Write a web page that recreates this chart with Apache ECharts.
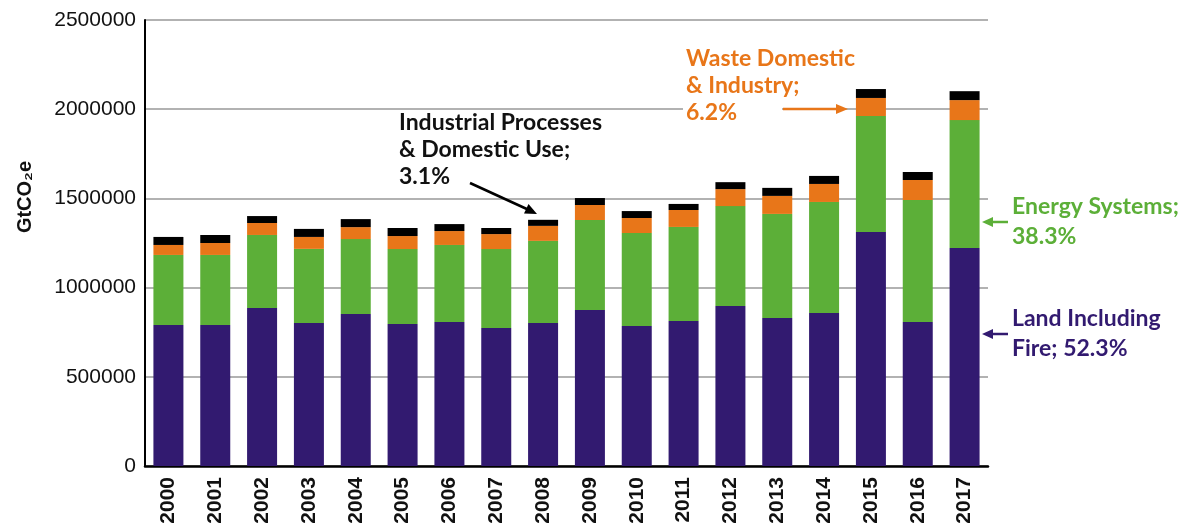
<!DOCTYPE html>
<html lang="en">
<head>
    <meta charset="utf-8" />
    <title>GtCO2e by sector</title>
    <script type="text/javascript" src="https://cdn.jsdelivr.net/npm/echarts/dist/echarts.min.js"></script>
    <style>
        html, body { margin: 0; padding: 0; background: #fff; }
        #chart { width: 1189px; height: 527px; }
    </style>
</head>
<body>
    <div id="chart"></div>

    <script type="text/javascript">
        // values
        var years = ['2000','2001','2002','2003','2004','2005','2006','2007','2008',
                     '2009','2010','2011','2012','2013','2014','2015','2016','2017'];
        var landData     = [790000, 790000, 886000, 802000, 852000, 796000, 807000, 774000, 802000,
                            874000, 785000, 813000, 897000, 830000, 858000, 1312000, 807000, 1222000];
        var energyData   = [393000, 393000, 409000, 415000, 420000, 420000, 432000, 442000, 460000,
                            505000, 521000, 527000, 560000, 583000, 622000, 650000, 684000, 717000];
        var wasteData    = [56000, 67000, 67000, 67000, 67000, 73000, 78000, 84000, 84000,
                            84000, 84000, 95000, 95000, 101000, 101000, 101000, 112000, 112000];
        var industryData = [45000, 45000, 39000, 45000, 45000, 45000, 39000, 34000, 34000,
                            39000, 39000, 34000, 39000, 45000, 45000, 50000, 45000, 50000];
        var yTicks = [0, 500000, 1000000, 1500000, 2000000, 2500000];

        var purple = '#321a70';
        var green = '#5caf38';
        var orange = '#e87619';

        var chart = echarts.init(document.getElementById('chart'));

        function bar(name, data, color) {
            return {
                name: name,
                type: 'bar',
                stack: 'total',
                barWidth: 30,
                itemStyle: { color: color },
                data: data
            };
        }

        function note(x, y, text, color, size, lh) {
            return {
                type: 'text',
                x: x, y: y, z: 100,
                style: {
                    text: text,
                    fill: color,
                    font: 'bold ' + size + 'px Lato',
                    lineHeight: lh,
                    textVerticalAlign: 'top'
                }
            };
        }

        var option = {
            animation: false,
            grid: { left: 145, right: 201, top: 20, bottom: 61 },
            xAxis: {
                type: 'category',
                data: years,
                axisLine: { lineStyle: { color: '#000', width: 2.5 } },
                axisTick: { inside: true, length: 11, lineStyle: { color: '#666', width: 1.5 } },
                axisLabel: {
                    rotate: 90,
                    margin: 11,
                    color: '#111',
                    fontFamily: 'Liberation Sans',
                    fontWeight: 'bold',
                    fontSize: 21
                }
            },
            yAxis: {
                type: 'value',
                min: yTicks[0],
                max: yTicks[yTicks.length - 1],
                interval: 500000,
                axisLine: { show: true, lineStyle: { color: '#000', width: 2 } },
                axisTick: { show: false },
                splitLine: { lineStyle: { color: '#999', width: 1.5 } },
                axisLabel: {
                    margin: 9,
                    color: '#111',
                    fontFamily: 'Liberation Sans',
                    fontSize: 21,
                    formatter: function (v) { return String(v); }
                }
            },
            series: [
                bar('Land Including Fire', landData, purple),
                bar('Energy Systems', energyData, green),
                bar('Waste Domestic & Industry', wasteData, orange),
                bar('Industrial Processes & Domestic Use', industryData, '#000')
            ],
            graphic: [
                {
                    type: 'text',
                    x: 25, y: 197,
                    rotation: Math.PI / 2,
                    style: {
                        text: 'GtCO\u2082e',
                        fill: '#111',
                        font: 'bold 20px "Liberation Sans"',
                        textAlign: 'center',
                        textVerticalAlign: 'middle'
                    }
                },
                // white box behind the waste label
                {
                    type: 'rect', z: 90,
                    shape: { x: 683, y: 44, width: 99, height: 84 },
                    style: { fill: '#fff' }
                },
                note(399, 109, 'Industrial Processes\n& Domestic Use;\n3.1%', '#111', 23, 27),
                note(686, 45, 'Waste Domestic\n& Industry;\n6.2%', orange, 23, 27),
                note(1012, 192, 'Energy Systems;\n38.3%', green, 23, 30),
                note(1012, 304, 'Land Including\nFire; 52.3%', purple, 23, 30),
                // arrows
                { type: 'line', z: 100, shape: { x1: 470, y1: 183, x2: 529, y2: 210 }, style: { stroke: '#000', lineWidth: 2.5 } },
                { type: 'polygon', z: 100, shape: { points: [[537, 214], [524, 213.5], [528.5, 204]] }, style: { fill: '#000' } },
                { type: 'line', z: 100, shape: { x1: 783, y1: 109, x2: 838, y2: 109 }, style: { stroke: orange, lineWidth: 2.5 } },
                { type: 'polygon', z: 100, shape: { points: [[848, 109], [836, 104], [836, 114]] }, style: { fill: orange } },
                { type: 'line', z: 100, shape: { x1: 1008, y1: 222, x2: 990, y2: 222 }, style: { stroke: green, lineWidth: 2.5 } },
                { type: 'polygon', z: 100, shape: { points: [[982, 222], [993, 217], [993, 227]] }, style: { fill: green } },
                { type: 'line', z: 100, shape: { x1: 1008, y1: 334, x2: 990, y2: 334 }, style: { stroke: purple, lineWidth: 2.5 } },
                { type: 'polygon', z: 100, shape: { points: [[982, 334], [993, 329], [993, 339]] }, style: { fill: purple } }
            ]
        };

        chart.setOption(option);
    </script>
</body>
</html>
